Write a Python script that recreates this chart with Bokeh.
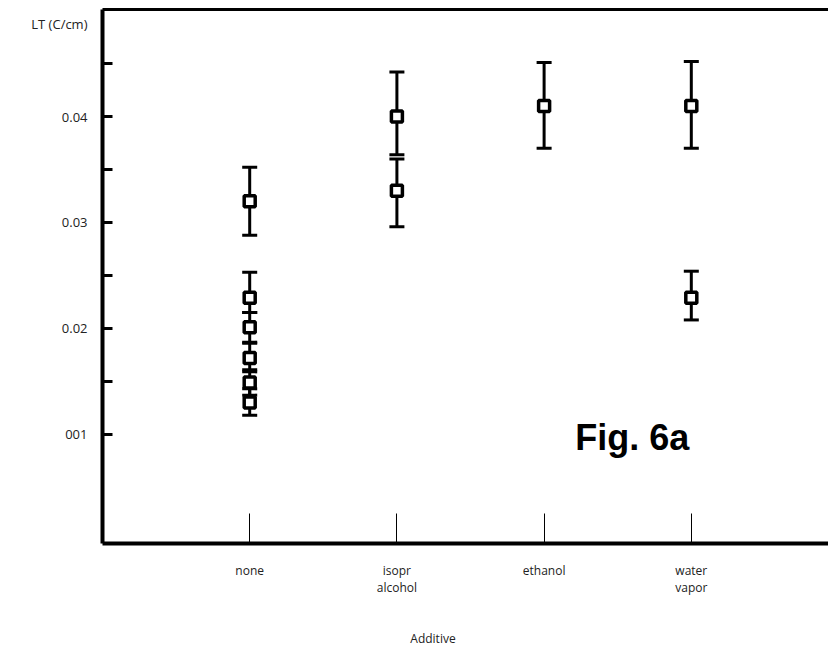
from bokeh.plotting import figure
from bokeh.models import (Range1d, FixedTicker, LinearAxis, Whisker, TeeHead,
                          ColumnDataSource, Label)
from bokeh.embed import file_html
from bokeh.resources import INLINE

# ---- data ----
categories = ["none", "isopr\nalcohol", "ethanol", "water\nvapor"]
cat_index = [0, 0, 0, 0, 0, 0, 1, 1, 2, 3, 3]
lt_mean = [0.0320, 0.0229, 0.0201, 0.0172, 0.0149, 0.0130, 0.0400, 0.0330, 0.0410, 0.0410, 0.0229]
lt_low = [0.0288, 0.0215, 0.0187, 0.0159, 0.0137, 0.0118, 0.0364, 0.0296, 0.0370, 0.0370, 0.0208]
lt_high = [0.0352, 0.0253, 0.0215, 0.0186, 0.0161, 0.0143, 0.0442, 0.0360, 0.0451, 0.0452, 0.0254]
y_ticks = [0.01, 0.02, 0.03, 0.04]
y_tick_labels = ["001", "0.02", "0.03", "0.04"]
y_minor_ticks = [0.015, 0.025, 0.035, 0.045]
y_title = "LT (C/cm)"
x_title = "Additive"

# axis-title anchor positions (layout, in axis units)
Y_TITLE_AT = 0.0487
X_TITLE_AT = 1.245

src = ColumnDataSource(dict(x=cat_index, y=lt_mean, lo=lt_low, hi=lt_high))

p = figure(width=828, height=652, output_backend="svg", toolbar_location=None,
           x_range=Range1d(-1.0, 3.932), y_range=Range1d(-0.0003, 0.0501),
           x_axis_location=None, y_axis_location=None,
           min_border_left=102, min_border_right=0, min_border_top=9, min_border_bottom=109)
p.grid.visible = False
p.outline_line_color = None
p.background_fill_color = "white"

FONT = "Open Sans"

# left axis: visible tick marks drawn as "minor" ticks, labels on majors
yax = LinearAxis(ticker=FixedTicker(ticks=y_ticks + [Y_TITLE_AT],
                                    minor_ticks=y_ticks + y_minor_ticks))
overrides = {t: l for t, l in zip(y_ticks, y_tick_labels)}
overrides[Y_TITLE_AT] = y_title
yax.major_label_overrides = overrides
yax.axis_line_width = 4
yax.major_tick_line_color = None
yax.major_tick_in = 0
yax.major_tick_out = 0
yax.minor_tick_in = 10
yax.minor_tick_out = 0
yax.minor_tick_line_width = 3
yax.major_label_text_font = FONT
yax.major_label_text_font_size = "13px"
yax.major_label_text_color = "#222222"
yax.major_label_standoff = 15
p.add_layout(yax, "left")

# bottom axis
xax = LinearAxis(ticker=FixedTicker(ticks=[0, 1, 2, 3, X_TITLE_AT], minor_ticks=[0, 1, 2, 3]))
xoverrides = {i: c for i, c in enumerate(categories)}
xoverrides[X_TITLE_AT] = "\n" * 4 + x_title
xax.major_label_overrides = xoverrides
xax.axis_line_width = 4
xax.major_tick_line_color = None
xax.major_tick_in = 0
xax.major_tick_out = 0
xax.minor_tick_in = 30
xax.minor_tick_out = 0
xax.minor_tick_line_width = 1
xax.major_label_text_font = FONT
xax.major_label_text_font_size = "12px"
xax.major_label_text_line_height = 1.0
xax.major_label_text_color = "#222222"
xax.major_label_standoff = 18
p.add_layout(xax, "below")

# top line
tax = LinearAxis(ticker=FixedTicker(ticks=[]))
tax.axis_line_width = 3
tax.major_label_text_font_size = "0px"
p.add_layout(tax, "above")

# error bars
w = Whisker(source=src, base="x", lower="lo", upper="hi", dimension="height",
            line_width=3, line_color="black",
            lower_head=TeeHead(size=15, line_width=3, line_color="black"),
            upper_head=TeeHead(size=15, line_width=3, line_color="black"))
p.add_layout(w)

p.scatter("x", "y", source=src, marker="square", size=11, fill_color="white",
          line_color="black", line_width=3.5)

p.add_layout(Label(x=2.211, y=0.0097, text="Fig. 6a", text_align="left",
                   text_baseline="alphabetic", text_font="Liberation Sans",
                   text_font_style="bold", text_font_size="36px", text_color="black"))

open("out.html", "w").write(file_html(p, INLINE))
